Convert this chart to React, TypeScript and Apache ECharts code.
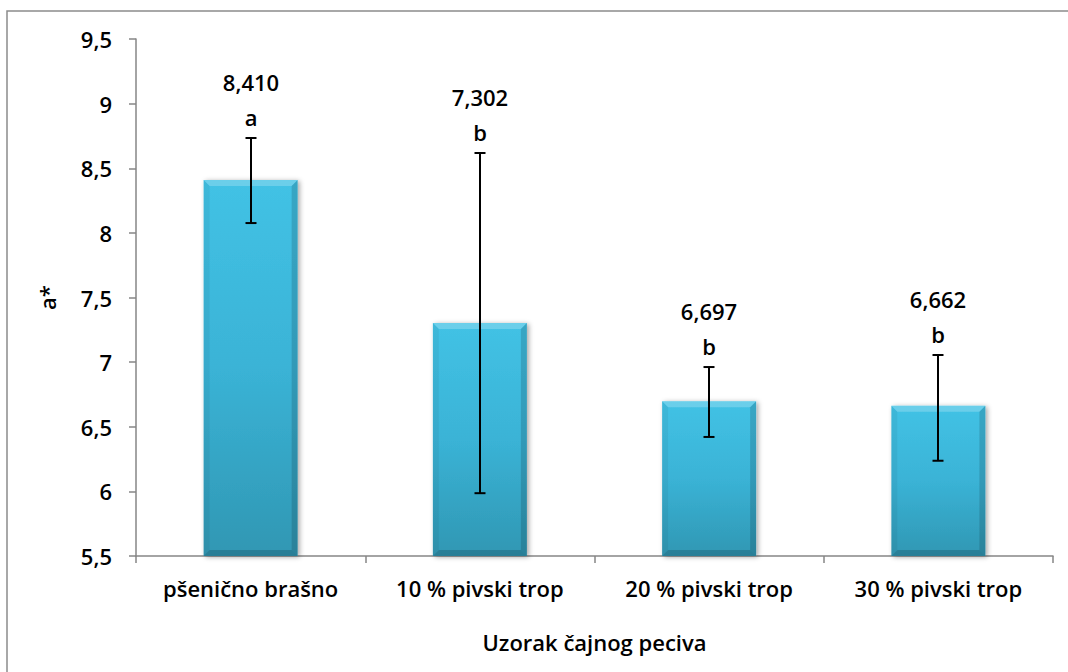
import React, { useEffect, useRef } from "react";
import * as echarts from "echarts";

const categories = ["pšenično brašno", "10 % pivski trop", "20 % pivski trop", "30 % pivski trop"];
const values = [8.41, 7.302, 6.697, 6.662];
const errorHigh = [8.734, 8.618, 6.962, 7.055];
const errorLow = [8.076, 5.986, 6.421, 6.237];
const letters = ["a", "b", "b", "b"];
const yTicks = { min: 5.5, max: 9.5, interval: 0.5 };

const FONT = "Open Sans";
const FS = 22;
const FW = 600;
const BAR_FRAC = 0.41;
const fmtAxis = (v: number) => String(v).replace(".", ",");
const fmtVal = (v: number) => v.toFixed(3).replace(".", ",");

export default function App() {
  const ref = useRef<HTMLDivElement>(null);
  useEffect(() => {
    if (!ref.current) return;
    const chart = echarts.init(ref.current, undefined, { renderer: "svg" });
    const errData = categories.map((_, i) => [i, errorLow[i], errorHigh[i], values[i]]);
    const textStyle = { fontFamily: FONT, fontSize: FS, fontWeight: FW, color: "#000" };
    chart.setOption({
      animation: false,
      backgroundColor: "#ffffff",
      graphic: [
        {
          type: "rect",
          shape: { x: 7, y: 11, width: 1100, height: 700 },
          style: { fill: "none", stroke: "#8c8c8c", lineWidth: 1.5 },
          silent: true,
        },
      ],
      grid: { left: 136, right: 15, top: 39, bottom: 116 },
      xAxis: {
        type: "category",
        data: categories,
        name: "Uzorak čajnog peciva",
        nameLocation: "middle",
        nameGap: 75,
        nameTextStyle: textStyle,
        axisLine: { lineStyle: { color: "#868686", width: 1.5 } },
        axisTick: { show: true, length: 7, lineStyle: { color: "#868686", width: 1.5 } },
        axisLabel: { ...textStyle, margin: 21 },
      },
      yAxis: {
        type: "value",
        min: yTicks.min,
        max: yTicks.max,
        interval: yTicks.interval,
        name: "a*",
        nameLocation: "middle",
        nameRotate: 90,
        nameGap: 78,
        nameTextStyle: textStyle,
        axisLine: { show: true, lineStyle: { color: "#868686", width: 1.5 } },
        axisTick: { show: true, length: 7, lineStyle: { color: "#868686", width: 1.5 } },
        splitLine: { show: false },
        axisLabel: { ...textStyle, margin: 24, formatter: (v: number) => fmtAxis(v) },
      },
      series: [
        {
          type: "bar",
          data: values,
          barWidth: BAR_FRAC * 100 + "%",
          itemStyle: {
            color: new echarts.graphic.LinearGradient(0, 0, 0, 1, [
              { offset: 0, color: "#42C2E5" },
              { offset: 0.5, color: "#3AB3D6" },
              { offset: 1, color: "#3097B3" },
            ]),
            shadowColor: "rgba(0,0,0,0.35)",
            shadowBlur: 5,
            shadowOffsetX: 2,
            shadowOffsetY: 1,
          },
        },
        {
          type: "custom",
          data: errData,
          z: 10,
          renderItem: (params: any, api: any) => {
            const i = api.value(0);
            const lo = api.coord([i, api.value(1)]);
            const hi = api.coord([i, api.value(2)]);
            const top = api.coord([i, api.value(3)]);
            const base = api.coord([i, yTicks.min]);
            const w = api.size([1, 0])[0] * BAR_FRAC;
            const x0 = top[0] - w / 2;
            const x1 = top[0] + w / 2;
            const yT = top[1];
            const yB = base[1];
            const b = 6;
            const x = Math.round(hi[0]);
            const cap = 5.5;
            const stroke = { stroke: "#000", lineWidth: 2 };
            const lbl = (text: string, y: number) => ({
              type: "text",
              x: x,
              y: y,
              style: {
                text,
                fontFamily: FONT,
                fontSize: FS,
                fontWeight: FW,
                fill: "#000",
                align: "center",
                verticalAlign: "middle",
              },
            });
            return {
              type: "group",
              children: [
                {
                  type: "polygon",
                  shape: { points: [[x0, yT], [x1, yT], [x1 - b, yT + b], [x0 + b, yT + b]] },
                  style: { fill: "rgba(255,255,255,0.22)" },
                },
                {
                  type: "polygon",
                  shape: { points: [[x0, yT], [x0 + b, yT + b], [x0 + b, yB - b], [x0, yB]] },
                  style: { fill: "rgba(0,0,0,0.05)" },
                },
                {
                  type: "polygon",
                  shape: { points: [[x1, yT], [x1 - b, yT + b], [x1 - b, yB - b], [x1, yB]] },
                  style: { fill: "rgba(0,0,0,0.14)" },
                },
                {
                  type: "polygon",
                  shape: { points: [[x0, yB], [x0 + b, yB - b], [x1 - b, yB - b], [x1, yB]] },
                  style: { fill: "rgba(0,0,0,0.16)" },
                },
                { type: "line", shape: { x1: x, y1: hi[1], x2: x, y2: lo[1] }, style: stroke },
                { type: "line", shape: { x1: x - cap, y1: hi[1], x2: x + cap, y2: hi[1] }, style: stroke },
                { type: "line", shape: { x1: x - cap, y1: lo[1], x2: x + cap, y2: lo[1] }, style: stroke },
                lbl(fmtVal(api.value(3)), hi[1] - 56),
                lbl(letters[params.dataIndex], hi[1] - 21),
              ],
            };
          },
        },
      ],
    });
    return () => chart.dispose();
  }, []);
  return (
    <div
      ref={ref}
      style={{ position: "fixed", left: 0, top: 0, width: 1068, height: 672 }}
    />
  );
}
